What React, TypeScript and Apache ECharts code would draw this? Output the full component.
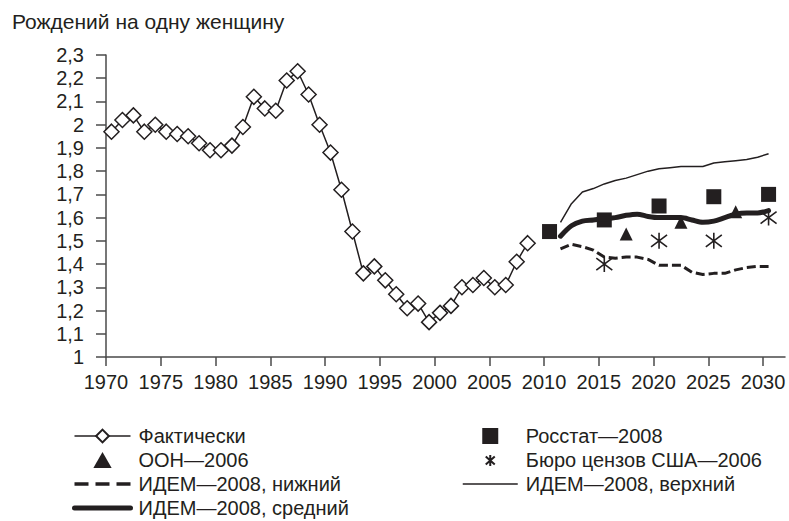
import React, { useEffect, useRef } from "react";
import * as echarts from "echarts";

const INK = "#231f20";
const FONT = "'Liberation Sans', Arial, sans-serif";

const xTicks = [1970, 1975, 1980, 1985, 1990, 1995, 2000, 2005, 2010, 2015, 2020, 2025, 2030];

const actualYears = [
  1970, 1971, 1972, 1973, 1974, 1975, 1976, 1977, 1978, 1979,
  1980, 1981, 1982, 1983, 1984, 1985, 1986, 1987, 1988, 1989,
  1990, 1991, 1992, 1993, 1994, 1995, 1996, 1997, 1998, 1999,
  2000, 2001, 2002, 2003, 2004, 2005, 2006, 2007, 2008,
];
const actualValues = [
  1.97, 2.02, 2.04, 1.97, 2.0, 1.97, 1.96, 1.95, 1.92, 1.89,
  1.89, 1.91, 1.99, 2.12, 2.07, 2.06, 2.19, 2.23, 2.13, 2.0,
  1.88, 1.72, 1.54, 1.36, 1.39, 1.33, 1.27, 1.21, 1.23, 1.15,
  1.19, 1.22, 1.3, 1.31, 1.34, 1.3, 1.31, 1.41, 1.49,
];

const rosstatYears = [2010, 2015, 2020, 2025, 2030];
const rosstatValues = [1.54, 1.59, 1.65, 1.69, 1.7];

const unYears = [2017, 2022, 2027];
const unValues = [1.53, 1.58, 1.625];

const censusYears = [2015, 2020, 2025, 2030];
const censusValues = [1.4, 1.5, 1.5, 1.6];

const idemYears = [
  2011, 2012, 2013, 2014, 2015, 2016, 2017, 2018, 2019, 2020,
  2021, 2022, 2023, 2024, 2025, 2026, 2027, 2028, 2029, 2030,
];
const idemUpper = [
  1.58, 1.66, 1.71, 1.725, 1.745, 1.76, 1.77, 1.785, 1.8, 1.81,
  1.815, 1.82, 1.82, 1.82, 1.835, 1.84, 1.845, 1.85, 1.86, 1.875,
];
const idemMiddle = [
  1.52, 1.565, 1.585, 1.59, 1.595, 1.6, 1.61, 1.615, 1.605, 1.6,
  1.6, 1.6, 1.59, 1.58, 1.585, 1.6, 1.615, 1.62, 1.62, 1.63,
];
const idemLower = [
  1.465, 1.485, 1.475, 1.46, 1.43, 1.425, 1.43, 1.43, 1.42, 1.395,
  1.395, 1.395, 1.365, 1.355, 1.36, 1.36, 1.375, 1.385, 1.39, 1.39,
];

// points sit in the middle of each year
const toPts = (years: number[], vals: number[]) => years.map((y, i) => [y + 0.5, vals[i]]);

const ASTERISK = "path://M8,0L8,16M1,2L15,14M15,2L1,14";
const ASTERISK_ICON = "path://M0,0M16,16M8,3L8,14M3.5,4.5L12.5,12.5M12.5,4.5L3.5,12.5";
const SQUARE_ICON = "path://M0,0L16,0L16,16L0,16Z";
const TRIANGLE_ICON = "path://M8,0L16,14L0,14Z";

export default function App() {
  const ref = useRef<HTMLDivElement>(null);
  useEffect(() => {
    if (!ref.current) return;
    const chart = echarts.init(ref.current, null, { renderer: "svg" });
    const legendText = { fontSize: 20, color: INK, fontFamily: FONT, padding: [0, 0, 0, 3] };
    const hideSym = { opacity: 0 };
    chart.setOption({
      animation: false,
      backgroundColor: "#fff",
      textStyle: { fontFamily: FONT },
      title: {
        text: "Рождений на одну женщину",
        left: 12,
        top: 11,
        padding: 0,
        textStyle: { fontSize: 21, fontWeight: "normal", color: INK, fontFamily: FONT },
      },
      grid: { left: 106, right: 4, top: 55, bottom: 164, containLabel: false },
      xAxis: {
        type: "value",
        min: 1970,
        max: 2032,
        interval: 5,
        splitLine: { show: false },
        axisLine: { lineStyle: { color: "#4a4a4a", width: 1.5 } },
        axisTick: { customValues: xTicks, length: 9, lineStyle: { color: "#4a4a4a", width: 1.5 } },
        axisLabel: {
          customValues: xTicks,
          fontSize: 20,
          color: INK,
          margin: 15,
          fontFamily: FONT,
          formatter: (v: number) => String(Math.round(v)),
        },
      },
      yAxis: {
        type: "value",
        min: 1,
        max: 2.3,
        interval: 0.1,
        splitLine: { show: false },
        axisLine: { show: true, lineStyle: { color: "#4a4a4a", width: 1.5 } },
        axisTick: { show: true, length: 10, lineStyle: { color: "#4a4a4a", width: 1.5 } },
        axisLabel: {
          fontSize: 20,
          color: INK,
          margin: 22,
          fontFamily: FONT,
          formatter: (v: number) => String(Math.round(v * 10) / 10).replace(".", ","),
        },
      },
      legend: [
        {
          orient: "vertical",
          left: 72,
          top: 426,
          itemWidth: 56,
          itemHeight: 16,
          itemGap: 4,
          padding: 0,
          selectedMode: false,
          symbolKeepAspect: true,
          textStyle: legendText,
          data: [
            { name: "Фактически", lineStyle: { width: 1.5 } },
            { name: "ООН—2006", icon: TRIANGLE_ICON },
            { name: "ИДЕМ—2008, нижний", itemStyle: hideSym, lineStyle: { width: 3.5, type: [14, 7] } },
            { name: "ИДЕМ—2008, средний", itemStyle: hideSym, lineStyle: { width: 5 } },
          ],
        },
        {
          orient: "vertical",
          left: 462,
          top: 426,
          itemWidth: 55,
          itemHeight: 16,
          itemGap: 4,
          padding: 0,
          selectedMode: false,
          symbolKeepAspect: true,
          textStyle: legendText,
          data: [
            { name: "Росстат—2008", icon: SQUARE_ICON },
            { name: "Бюро цензов США—2006", icon: ASTERISK_ICON },
            { name: "ИДЕМ—2008, верхний", itemStyle: hideSym, lineStyle: { width: 1.5 } },
          ],
        },
      ],
      series: [
        {
          name: "ИДЕМ—2008, верхний",
          type: "line",
          symbol: "none",
          data: toPts(idemYears, idemUpper),
          lineStyle: { color: INK, width: 1.5 },
          itemStyle: { color: INK },
        },
        {
          name: "ИДЕМ—2008, нижний",
          type: "line",
          symbol: "none",
          data: toPts(idemYears, idemLower),
          lineStyle: { color: INK, width: 3, type: [9, 4] },
          itemStyle: { color: INK },
        },
        {
          name: "ИДЕМ—2008, средний",
          type: "line",
          symbol: "none",
          smooth: 0.3,
          data: toPts(idemYears, idemMiddle),
          lineStyle: { color: INK, width: 5, cap: "round" },
          itemStyle: { color: INK },
        },
        {
          name: "Росстат—2008",
          type: "scatter",
          symbol: "rect",
          symbolSize: 15,
          data: toPts(rosstatYears, rosstatValues),
          itemStyle: { color: INK, opacity: 1 },
        },
        {
          name: "ООН—2006",
          type: "scatter",
          symbol: "triangle",
          symbolSize: 13,
          data: toPts(unYears, unValues),
          itemStyle: { color: INK, opacity: 1 },
        },
        {
          name: "Бюро цензов США—2006",
          type: "scatter",
          symbol: ASTERISK,
          symbolSize: 16,
          data: toPts(censusYears, censusValues),
          itemStyle: { color: "transparent", borderColor: INK, borderWidth: 1.6, opacity: 1 },
        },
        {
          name: "Фактически",
          type: "line",
          symbol: "diamond",
          symbolSize: 15,
          showAllSymbol: true,
          data: toPts(actualYears, actualValues),
          lineStyle: { color: INK, width: 1.5 },
          itemStyle: { color: "#fff", borderColor: INK, borderWidth: 1.5 },
        },
      ],
    });
    return () => chart.dispose();
  }, []);
  return <div ref={ref} style={{ width: 789, height: 521, position: "absolute", left: 0, top: 0 }} />;
}
